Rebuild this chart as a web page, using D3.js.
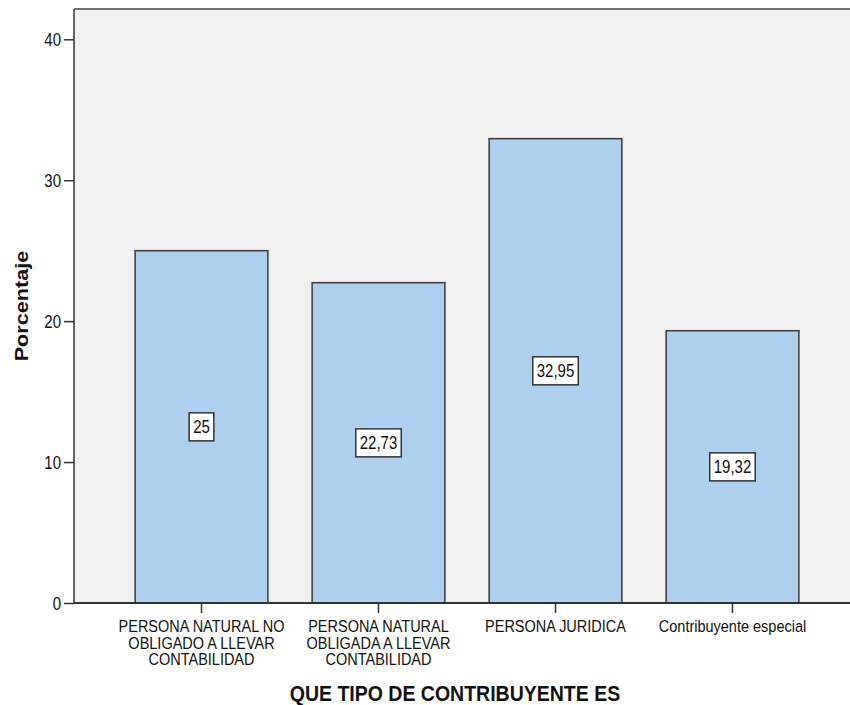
<!DOCTYPE html>
<html><head><meta charset="utf-8">
<script src="https://cdn.jsdelivr.net/npm/d3@7"></script>
<style>body{margin:0;background:#fff}svg{display:block}text{font-family:Arial,"Liberation Sans",sans-serif;fill:#111}</style>
</head><body><svg id="c" width="850" height="705"></svg>
<script>
const categories = [
  ["PERSONA NATURAL NO","OBLIGADO A LLEVAR","CONTABILIDAD"],
  ["PERSONA NATURAL","OBLIGADA A LLEVAR","CONTABILIDAD"],
  ["PERSONA JURIDICA"],
  ["Contribuyente especial"]
];
const values = [25, 22.73, 32.95, 19.32];
const valueLabels = ["25", "22,73", "32,95", "19,32"];
const yTicks = [0, 10, 20, 30, 40];
const yTitle = "Porcentaje";
const xTitle = "QUE TIPO DE CONTRIBUYENTE ES";

const S = 1.17; // vertical stretch of the reference's text
const svg = d3.select("#c");
const plot = {left: 74, top: 9, right: 850, bottom: 603};
const ids = categories.map((c, i) => i);
const x = d3.scaleBand().domain(ids).range([113, 821]).paddingInner(0.25).paddingOuter(0.125);
const y = d3.scaleLinear().domain([0, 42.15]).range([plot.bottom, plot.top]);

svg.append("rect").attr("x", plot.left).attr("y", plot.top)
  .attr("width", plot.right - plot.left).attr("height", plot.bottom - plot.top).attr("fill", "#f0f0f0");
svg.append("line").attr("x1", plot.left).attr("x2", plot.right).attr("y1", plot.top).attr("y2", plot.top)
  .attr("stroke", "#707070").attr("stroke-width", 2);

svg.selectAll("rect.bar").data(values).join("rect").attr("class", "bar")
  .attr("x", (d, i) => x(i)).attr("y", d => y(d))
  .attr("width", x.bandwidth()).attr("height", d => y(0) - y(d))
  .attr("fill", "#aecfee").attr("stroke", "#3a3a3a").attr("stroke-width", 1.5);

// y axis
const yAxis = svg.append("g").attr("transform", `translate(${plot.left},0)`)
  .call(d3.axisLeft(y).tickValues(yTicks).tickSize(10).tickPadding(3).tickFormat(d3.format("d")));
yAxis.select(".domain").attr("stroke", "#333").attr("stroke-width", 1.5).attr("d", `M0,${plot.top}V${plot.bottom}`);
yAxis.selectAll(".tick line").attr("stroke", "#333").attr("stroke-width", 1.5);
yAxis.selectAll(".tick text").attr("font-size", 15).attr("font-family", "Arial,'Liberation Sans',sans-serif")
  .attr("fill", "#222").attr("dy", "0.36em").attr("transform", `scale(1,${S})`);

// x axis
const xAxis = svg.append("g").attr("transform", `translate(0,${plot.bottom})`)
  .call(d3.axisBottom(x).tickSize(10).tickFormat(""));
xAxis.select(".domain").attr("stroke", "#333").attr("stroke-width", 2).attr("d", `M${plot.left},0H${plot.right}`);
xAxis.selectAll(".tick line").attr("stroke", "#333").attr("stroke-width", 1.5);
xAxis.selectAll(".tick").each(function(d) {
  const t = d3.select(this).append("text").attr("text-anchor", "middle").attr("font-size", 14.5)
    .attr("fill", "#111").attr("transform", `scale(1,${S})`);
  categories[d].forEach((line, k) => t.append("tspan").attr("x", 0).attr("y", (29 + k * 16.6) / S).text(line));
});

// value labels
const lab = svg.selectAll("g.lab").data(values).join("g").attr("class", "lab")
  .attr("transform", (d, i) => `translate(${x(i) + x.bandwidth() / 2},${y(d / 2)})`);
lab.each(function(d, i) {
  const g = d3.select(this);
  const t = g.append("text").attr("text-anchor", "middle").attr("dy", "0.36em")
    .attr("font-size", 15).attr("fill", "#111").attr("transform", `scale(1,${S})`).text(valueLabels[i]);
  const w = t.node().getComputedTextLength();
  g.insert("rect", "text").attr("x", -w / 2 - 4).attr("y", -14).attr("width", w + 8).attr("height", 28)
    .attr("fill", "#fff").attr("stroke", "#333").attr("stroke-width", 1.5);
});

svg.append("g").attr("transform", `translate(28,${(plot.top + plot.bottom) / 2}) scale(1,${S}) rotate(-90)`)
  .append("text").attr("text-anchor", "middle").attr("font-size", 18.5).attr("font-weight", "bold").text(yTitle);
svg.append("g").attr("transform", `translate(455,701) scale(1,${S})`)
  .append("text").attr("text-anchor", "middle").attr("font-size", 19.5).attr("font-weight", "bold").text(xTitle);
</script></body></html>
